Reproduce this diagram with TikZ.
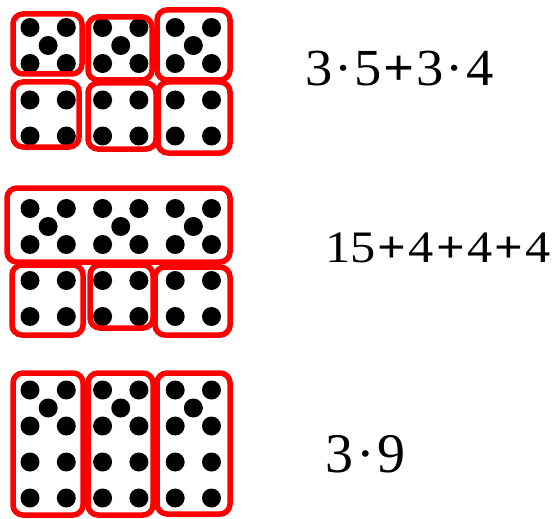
\documentclass[tikz,border=0pt]{standalone}
\usepackage{fontspec}
\setmainfont{Liberation Serif}
\usepackage{graphicx}
\tikzset{
  dicebox/.style={
    draw=red,
    line width=5.5pt,
    rounded corners=10pt
  },
  sumtext/.style={
    anchor=base west,
    inner sep=0pt,
    text=black
  }
}
% five pips: left column x, top row y
\newcommand{\pipsfive}[2]{%
  \fill (#1,#2) circle[radius=9.5pt] (#1+36.3,#2) circle[radius=9.5pt]
        (#1+18.15,#2+18) circle[radius=9.5pt]
        (#1,#2+36) circle[radius=9.5pt] (#1+36.3,#2+36) circle[radius=9.5pt];}
% four pips: left column x, top row y
\newcommand{\pipsfour}[2]{%
  \fill (#1,#2) circle[radius=9.5pt] (#1+36.3,#2) circle[radius=9.5pt]
        (#1,#2+36) circle[radius=9.5pt] (#1+36.3,#2+36) circle[radius=9.5pt];}
\newcommand{\bplus}{{\bfseries +}}
\begin{document}
\begin{tikzpicture}[x=1pt, y=-1pt]
  \useasboundingbox (0,0) rectangle (552,519);

  % First group: 3 fives and 3 fours
  \pipsfive{30}{27.5} \pipsfive{102.6}{27.5} \pipsfive{175.2}{27.5}
  \pipsfour{30}{100} \pipsfour{102.6}{100} \pipsfour{175.2}{100}
  \draw[dicebox] (13,14) rectangle (82,74);
  \draw[dicebox] (88,17) rectangle (152,80);
  \draw[dicebox] (157,10) rectangle (230,80);
  \draw[dicebox] (13,82) rectangle (79,147);
  \draw[dicebox] (88,83) rectangle (156,149);
  \draw[dicebox] (158,82) rectangle (230,153);
  \node[sumtext] (sumA) at (305,85)
    {\fontsize{52}{60}\selectfont\scalebox{1.05}[1]{3\kern2pt·\kern2pt5\kern1pt\bplus\kern2pt3\kern2pt·\kern2pt4}};

  % Second group: fifteen in one box, then 3 fours
  \pipsfive{30}{208.5} \pipsfive{102.6}{208.5} \pipsfive{175.2}{208.5}
  \pipsfour{30}{280.5} \pipsfour{102.6}{280.5} \pipsfour{175.2}{280.5}
  \draw[dicebox] (7,188) rectangle (230,262);
  \draw[dicebox] (12,265) rectangle (83,335);
  \draw[dicebox] (90,265) rectangle (153,328);
  \draw[dicebox] (155,267) rectangle (230,335);
  \node[sumtext] (sumB) at (325,262)
    {\fontsize{45}{52}\selectfont\scalebox{1.12}[1]{15\kern2pt\bplus\kern2pt4\kern2pt\bplus\kern2pt4\kern2pt\bplus\kern2pt4}};

  % Third group: 3 nines
  \pipsfive{30}{390} \pipsfive{102.6}{390} \pipsfive{175.2}{390}
  \pipsfour{30}{462} \pipsfour{102.6}{462} \pipsfour{175.2}{462}
  \draw[dicebox] (13,373) rectangle (83,515);
  \draw[dicebox] (88,373) rectangle (153,515);
  \draw[dicebox] (157,373) rectangle (230,514);
  \node[sumtext] (sumC) at (325,472)
    {\fontsize{56}{64}\selectfont 3\kern3pt·\kern3pt9};

\end{tikzpicture}
\end{document}
